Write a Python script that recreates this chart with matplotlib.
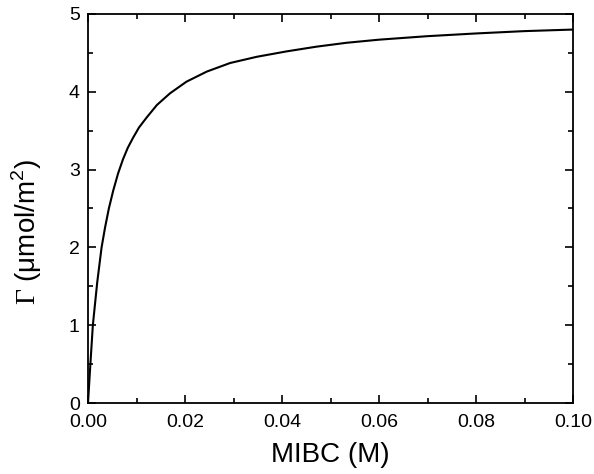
import matplotlib
matplotlib.use("Agg")
import matplotlib.pyplot as plt
from matplotlib.ticker import MultipleLocator, FormatStrFormatter

# MIBC concentration (M) and surface excess (umol/m^2)
mibc = [0.0, 0.0005, 0.001, 0.0019, 0.0028, 0.0035, 0.0043, 0.0052, 0.0062,
        0.0072, 0.0082, 0.0093, 0.0105, 0.0121, 0.0142, 0.0169, 0.0203,
        0.0245, 0.0293, 0.0348, 0.041, 0.0471, 0.0533, 0.060, 0.070,
        0.080, 0.090, 0.100]
gamma = [0.0, 0.51, 1.00, 1.55, 2.00, 2.25, 2.50, 2.73, 2.95,
         3.13, 3.28, 3.41, 3.54, 3.67, 3.83, 3.98, 4.13,
         4.26, 4.37, 4.45, 4.52, 4.58, 4.63, 4.67, 4.715,
         4.75, 4.78, 4.80]

plt.rcParams["font.family"] = ["Liberation Sans", "DejaVu Sans"]
plt.rcParams["mathtext.fontset"] = "custom"
plt.rcParams["mathtext.rm"] = "Liberation Sans"
plt.rcParams["mathtext.sf"] = "Liberation Serif"

fig = plt.figure(figsize=(5.94, 4.74), dpi=100)
ax = fig.add_axes([88 / 594, 1 - 403 / 474, 485 / 594, 389 / 474])

ax.plot(mibc, gamma, color="black", lw=1.5, solid_joinstyle="round")

ax.set_xlim(0, 0.1)
ax.set_ylim(0, 5)
ax.xaxis.set_major_locator(MultipleLocator(0.02))
ax.xaxis.set_minor_locator(MultipleLocator(0.01))
ax.xaxis.set_major_formatter(FormatStrFormatter("%.2f"))
ax.yaxis.set_major_locator(MultipleLocator(1))
ax.yaxis.set_minor_locator(MultipleLocator(0.5))

ax.tick_params(which="both", direction="in", top=True, right=True,
               width=1.2, labelsize=14)
ax.tick_params(axis="x", pad=8)
ax.tick_params(axis="y", pad=6)
ax.tick_params(which="major", length=6)
ax.tick_params(which="minor", length=3.5)
for s in ax.spines.values():
    s.set_linewidth(1.3)

ax.set_xlabel("MIBC (M)", fontsize=20)
ax.set_ylabel(r"$\mathsf{\Gamma}$ (μmol/m$^2$)", fontsize=20)
ax.xaxis.set_label_coords(0.5, -0.1)
ax.yaxis.set_label_coords(-0.09, 0.44)

fig.savefig("out.png", dpi=100)
